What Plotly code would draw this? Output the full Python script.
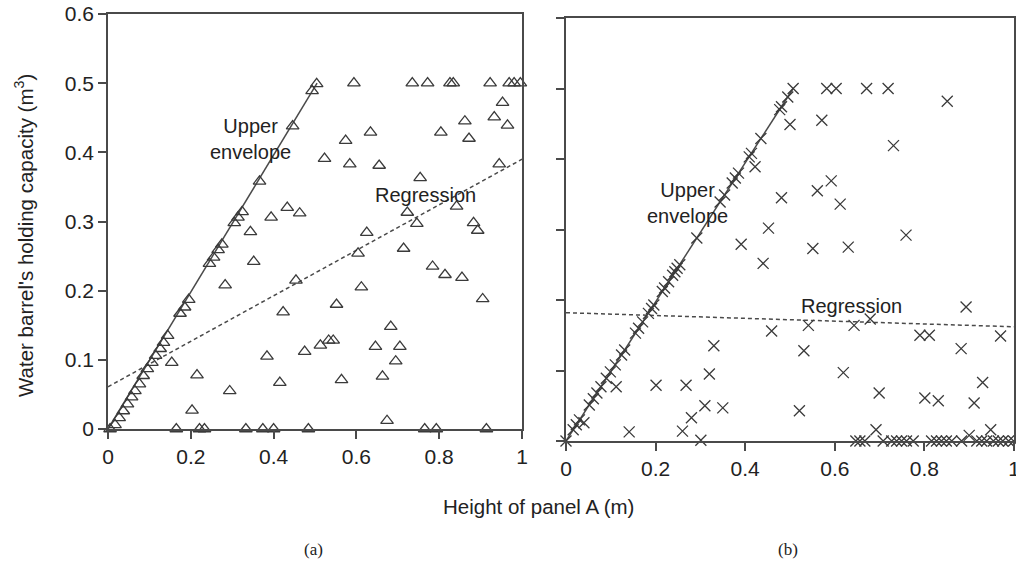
import plotly.graph_objects as go

# ---------------- Panel (a) data ----------------
a_env_x = [0.005, 0.017, 0.027, 0.037, 0.047, 0.057, 0.065, 0.076, 0.085, 0.095, 0.106, 0.115,
           0.126, 0.134, 0.144, 0.174, 0.185, 0.195, 0.245, 0.255, 0.266, 0.275, 0.305, 0.314,
           0.324, 0.366, 0.446, 0.493, 0.504]
a_env_y = [0.000, 0.006, 0.016, 0.026, 0.036, 0.046, 0.055, 0.065, 0.077, 0.087, 0.096, 0.106,
           0.116, 0.125, 0.135, 0.167, 0.176, 0.187, 0.239, 0.248, 0.259, 0.267, 0.298, 0.306,
           0.314, 0.358, 0.438, 0.489, 0.499]
a_x = [0.165, 0.221, 0.233, 0.333, 0.374, 0.400, 0.484, 0.765, 0.793, 0.914,
       0.154, 0.215, 0.203, 0.294, 0.283, 0.344, 0.352, 0.394, 0.433, 0.463, 0.454, 0.423,
       0.384, 0.415, 0.475,
       0.594, 0.735, 0.772, 0.826, 0.834, 0.923, 0.969, 0.981, 0.996,
       0.953, 0.862, 0.933, 0.965, 0.634, 0.804, 0.574, 0.872, 0.523, 0.584, 0.655, 0.945,
       0.754, 0.842, 0.723, 0.746, 0.883, 0.893, 0.625, 0.604, 0.714, 0.784, 0.814, 0.855,
       0.612, 0.905, 0.552, 0.683, 0.513, 0.533, 0.544, 0.646, 0.705, 0.695, 0.564, 0.663,
       0.674]
a_y = [0.000, 0.000, 0.000, 0.000, 0.000, 0.000, 0.000, 0.000, 0.000, 0.000,
       0.096, 0.078, 0.027, 0.055, 0.208, 0.285, 0.242, 0.306, 0.320, 0.312, 0.215, 0.169,
       0.105, 0.067, 0.112,
       0.500, 0.500, 0.500, 0.500, 0.500, 0.500, 0.500, 0.500, 0.500,
       0.472, 0.445, 0.451, 0.439, 0.429, 0.429, 0.417, 0.420, 0.391, 0.383, 0.381, 0.383,
       0.363, 0.322, 0.313, 0.297, 0.298, 0.287, 0.284, 0.254, 0.261, 0.235, 0.223, 0.219,
       0.205, 0.188, 0.180, 0.148, 0.121, 0.128, 0.128, 0.119, 0.119, 0.098, 0.071, 0.076,
       0.012]
a_upper_x = [0.0, 0.505]
a_upper_y = [0.0, 0.5]
a_reg_x = [0.0, 1.0]
a_reg_y = [0.061, 0.39]

# ---------------- Panel (b) data ----------------
b_env_x = [0.000, 0.016, 0.023, 0.030, 0.052, 0.061, 0.069, 0.078, 0.090, 0.099, 0.110, 0.124,
           0.131, 0.155, 0.162, 0.171, 0.184, 0.191, 0.196, 0.215, 0.220, 0.229, 0.238, 0.243,
           0.248, 0.254, 0.292, 0.344, 0.354, 0.371, 0.378, 0.385, 0.409, 0.414, 0.435, 0.477,
           0.481, 0.495, 0.507]
b_env_y = [0.000, 0.016, 0.023, 0.030, 0.051, 0.060, 0.068, 0.077, 0.089, 0.098, 0.108, 0.122,
           0.129, 0.153, 0.160, 0.169, 0.181, 0.188, 0.193, 0.212, 0.217, 0.226, 0.235, 0.240,
           0.245, 0.250, 0.288, 0.339, 0.349, 0.366, 0.373, 0.380, 0.403, 0.408, 0.429, 0.470,
           0.474, 0.488, 0.500]
b_x = [0.040, 0.112, 0.141, 0.201, 0.268, 0.260, 0.280, 0.301, 0.310, 0.320, 0.330, 0.350,
       0.391, 0.422, 0.440, 0.452, 0.481, 0.459, 0.500,
       0.582, 0.603, 0.671, 0.719,
       0.851, 0.571, 0.731, 0.561, 0.592, 0.612, 0.759, 0.551, 0.630, 0.893, 0.541, 0.643,
       0.679, 0.790, 0.811, 0.970, 0.531, 0.882, 0.619, 0.930, 0.699, 0.801, 0.831, 0.911,
       0.521, 0.692, 0.948, 0.900,
       0.647, 0.656, 0.667, 0.708, 0.727, 0.738, 0.749, 0.760, 0.775, 0.816, 0.827, 0.838,
       0.849, 0.861, 0.883, 0.917, 0.928, 0.939, 0.954, 0.965, 0.975, 0.988, 0.999]
b_y = [0.026, 0.077, 0.013, 0.079, 0.079, 0.014, 0.033, 0.001, 0.050, 0.095, 0.135, 0.047,
       0.279, 0.389, 0.252, 0.302, 0.345, 0.156, 0.449,
       0.500, 0.500, 0.500, 0.500,
       0.482, 0.455, 0.419, 0.355, 0.369, 0.336, 0.292, 0.273, 0.275, 0.190, 0.164, 0.164,
       0.173, 0.150, 0.150, 0.149, 0.128, 0.131, 0.097, 0.083, 0.068, 0.061, 0.057, 0.054,
       0.043, 0.016, 0.016, 0.008,
       0.000, 0.000, 0.000, 0.000, 0.000, 0.000, 0.000, 0.000, 0.000, 0.000, 0.000, 0.000,
       0.000, 0.000, 0.000, 0.000, 0.000, 0.000, 0.000, 0.000, 0.000, 0.000, 0.000]
b_upper_x = [0.0, 0.507]
b_upper_y = [0.0, 0.5]
b_reg_x = [0.0, 1.0]
b_reg_y = [0.182, 0.162]

x_ticks = [0, 0.2, 0.4, 0.6, 0.8, 1]
x_ticklabels = ["0", "0.2", "0.4", "0.6", "0.8", "1"]
y_ticks = [0, 0.1, 0.2, 0.3, 0.4, 0.5, 0.6]
y_ticklabels = ["0", "0.1", "0.2", "0.3", "0.4", "0.5", "0.6"]

W, H = 1016, 561
INK = "#3a3a3a"
LINE = "#4a4a4a"
FONT = "Liberation Sans, Arial, sans-serif"
SERIF = "Liberation Serif, Times New Roman, serif"

fig = go.Figure()

tri = dict(symbol="triangle-up-open", size=11, color=INK, line=dict(width=1.3, color=INK))
crs = dict(symbol="x-thin", size=11, color=INK, line=dict(width=1.3, color=INK))

# panel a
fig.add_trace(go.Scatter(x=a_upper_x, y=a_upper_y, mode="lines", line=dict(color=LINE, width=1.5),
                         xaxis="x", yaxis="y", showlegend=False, hoverinfo="skip"))
fig.add_trace(go.Scatter(x=a_reg_x, y=a_reg_y, mode="lines",
                         line=dict(color=LINE, width=1.5, dash="4px,3px"),
                         xaxis="x", yaxis="y", showlegend=False, hoverinfo="skip"))
fig.add_trace(go.Scatter(x=a_env_x + a_x, y=a_env_y + a_y, mode="markers", marker=tri,
                         xaxis="x", yaxis="y", showlegend=False, cliponaxis=False))

# panel b
fig.add_trace(go.Scatter(x=b_upper_x, y=b_upper_y, mode="lines", line=dict(color=LINE, width=1.5),
                         xaxis="x2", yaxis="y2", showlegend=False, hoverinfo="skip"))
fig.add_trace(go.Scatter(x=b_reg_x, y=b_reg_y, mode="lines",
                         line=dict(color=LINE, width=1.5, dash="4px,3px"),
                         xaxis="x2", yaxis="y2", showlegend=False, hoverinfo="skip"))
fig.add_trace(go.Scatter(x=b_env_x + b_x, y=b_env_y + b_y, mode="markers", marker=crs,
                         xaxis="x2", yaxis="y2", showlegend=False, cliponaxis=False))

axis_common = dict(showline=True, mirror=True, linecolor=LINE, linewidth=1.5,
                   ticks="outside", ticklen=8, tickwidth=1.5, tickcolor=LINE,
                   showgrid=False, zeroline=False, automargin=False,
                   tickfont=dict(family=FONT, size=21, color="#222"))

fig.update_layout(
    width=W, height=H,
    margin=dict(l=0, r=0, t=0, b=0),
    paper_bgcolor="white", plot_bgcolor="white",
    xaxis=dict(domain=[108 / W, 522 / W], range=[0, 1], anchor="y",
               tickvals=x_ticks, ticktext=x_ticklabels, **axis_common),
    yaxis=dict(domain=[1 - 429 / H, 1 - 14 / H], range=[0, 0.6], anchor="x",
               tickvals=y_ticks, ticktext=y_ticklabels, **axis_common),
    xaxis2=dict(domain=[566 / W, 1014 / W], range=[0, 1], anchor="y2",
                tickvals=x_ticks, ticktext=x_ticklabels, ticklabeloverflow="allow",
                **axis_common),
    yaxis2=dict(domain=[1 - 441 / H, 1 - 18 / H], range=[0, 0.6], anchor="x2",
                tickvals=y_ticks, showticklabels=False, **axis_common),
)

ann_font = dict(family=FONT, size=20, color="#222")
title_font = dict(family=FONT, size=20.5, color="#222")
C = dict(xanchor="center", yanchor="middle", showarrow=False)
annotations = [
    dict(x=0.344, y=0.419, xref="x", yref="y", text="Upper<br>envelope",
         font=ann_font, align="center", **C),
    dict(x=0.768, y=0.339, xref="x", yref="y", text="Regression", font=ann_font, **C),
    dict(x=0.272, y=0.338, xref="x2", yref="y2", text="Upper<br>envelope",
         font=ann_font, align="center", **C),
    dict(x=0.638, y=0.191, xref="x2", yref="y2", text="Regression", font=ann_font, **C),
    dict(x=24 / W, y=1 - 236 / H, xref="paper", yref="paper",
         text="Water barrel's holding capacity (m<sup>3</sup>)", textangle=-90,
         font=title_font, **C),
    dict(x=538 / W, y=1 - 506 / H, xref="paper", yref="paper",
         text="Height of panel A (m)", font=title_font, **C),
    dict(x=313 / W, y=1 - 549 / H, xref="paper", yref="paper", text="(a)",
         font=dict(family=SERIF, size=17, color="#222"), **C),
    dict(x=788 / W, y=1 - 549 / H, xref="paper", yref="paper", text="(b)",
         font=dict(family=SERIF, size=17, color="#222"), **C),
]
fig.update_layout(annotations=annotations)

fig.write_html("out.html", config={"displayModeBar": False},
               post_script="document.body.style.margin='0';document.body.style.overflow='hidden';")
